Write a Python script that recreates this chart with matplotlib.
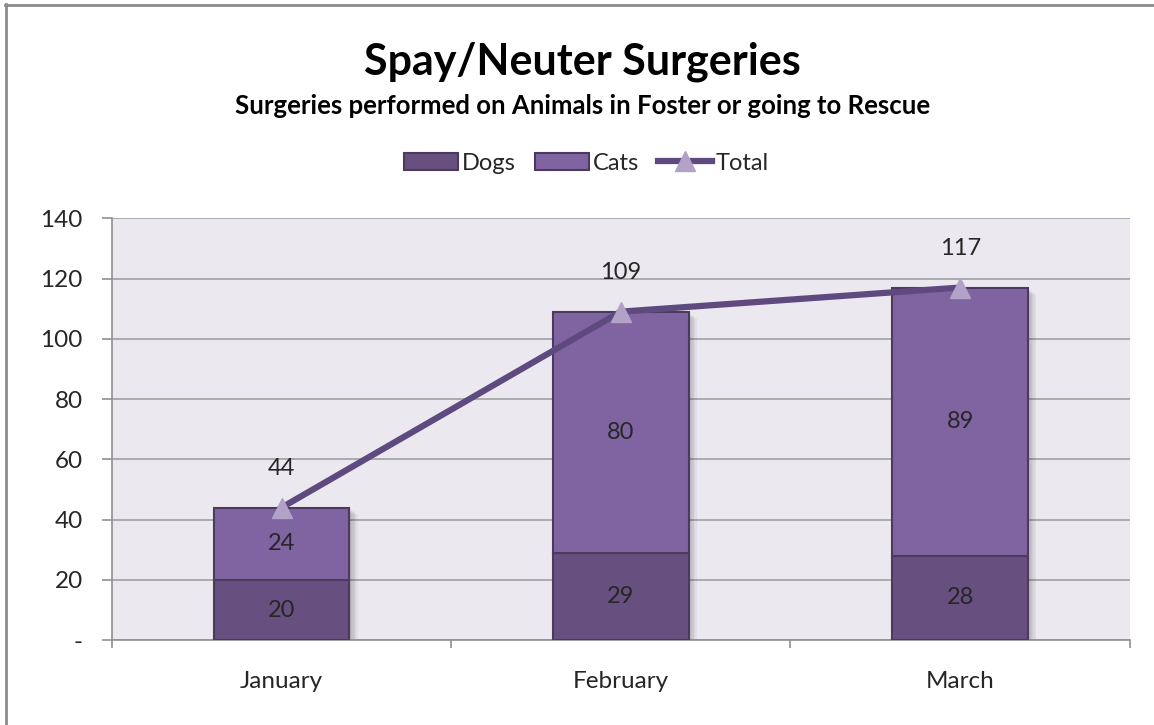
import numpy as np
import matplotlib.pyplot as plt
from matplotlib.patches import Rectangle

# data
months = ["January", "February", "March"]
dogs = [20, 29, 28]
cats = [24, 80, 89]
totals = [44, 109, 117]
yticks = [0, 20, 40, 60, 80, 100, 120, 140]
ytick_labels = ["-", "20", "40", "60", "80", "100", "120", "140"]

plt.rcParams["font.family"] = ["Lato", "DejaVu Sans"]

dog_color = "#67507f"
cat_color = "#8064a2"
edge_color = "#4a3a5e"
line_color = "#5f4a80"
marker_color = "#b3a2c7"
text_color = "#262626"

fig = plt.figure(figsize=(11.54, 7.25), dpi=100)
ax = fig.add_axes([0.097, 0.117, 0.882, 0.582])
ax.set_facecolor("#ebe9ef")

x = np.arange(len(months))
w = 0.4

# soft shadow to the right of the bars
for i in range(len(months)):
    for k in range(6):
        ax.add_patch(Rectangle((x[i] - w / 2 + 0.004 + k * 0.004, 0), w, totals[i] - 0.5 - k * 0.3,
                               facecolor="#000000", alpha=0.04, edgecolor="none", zorder=2))

b1 = ax.bar(x, dogs, w, color=dog_color, edgecolor=edge_color, linewidth=1.5, label="Dogs", zorder=3)
b2 = ax.bar(x, cats, w, bottom=dogs, color=cat_color, edgecolor=edge_color, linewidth=1.5, label="Cats", zorder=3)
ln, = ax.plot(x, totals, color=line_color, linewidth=4.5, marker="^", markersize=15,
              markerfacecolor=marker_color, markeredgecolor=marker_color, label="Total", zorder=4)

for i in range(len(months)):
    ax.text(x[i], dogs[i] / 2, str(dogs[i]), ha="center", va="center", fontsize=17, color=text_color, zorder=5)
    ax.text(x[i], dogs[i] + cats[i] / 2, str(cats[i]), ha="center", va="center", fontsize=17, color=text_color, zorder=5)
    ax.annotate(str(totals[i]), (x[i], totals[i]), xytext=(0, 28), textcoords="offset points",
                ha="center", va="center", fontsize=17, color=text_color, zorder=5)

ax.set_xlim(-0.5, 2.5)
ax.set_ylim(0, 140)
ax.set_yticks(yticks)
ax.set_yticklabels(ytick_labels)
ax.yaxis.grid(True, color="#a0a0a0", linewidth=1.2, zorder=1)
ax.set_axisbelow(True)

ax.set_xticks(x)
ax.set_xticklabels(months)
ax.set_xticks([-0.5, 0.5, 1.5, 2.5], minor=True)
ax.tick_params(axis="x", which="major", length=0, pad=22, labelsize=17.5, labelcolor=text_color)
ax.tick_params(axis="x", which="minor", length=6, color="#909090", width=1.2)
ax.tick_params(axis="y", length=7, color="#909090", width=1.2, pad=14, labelsize=17.5, labelcolor=text_color)

for side in ["top", "right"]:
    ax.spines[side].set_visible(False)
for side in ["left", "bottom"]:
    ax.spines[side].set_color("#909090")
    ax.spines[side].set_linewidth(1.2)

fig.text(0.505, 0.915, "Spay/Neuter Surgeries", ha="center", va="center",
         fontsize=31, fontweight="bold", color="#000000")
fig.text(0.505, 0.854, "Surgeries performed on Animals in Foster or going to Rescue", ha="center", va="center",
         fontsize=18.5, fontweight="bold", color="#000000")

leg = fig.legend([b1, b2, ln], ["Dogs", "Cats", "Total"], loc="center", bbox_to_anchor=(0.508, 0.775),
                 ncol=3, frameon=False, fontsize=17, handlelength=2.3, handletextpad=0.15, columnspacing=0.8)
for t in leg.get_texts():
    t.set_color(text_color)

# outer border (top and left visible)
fig.add_artist(plt.Line2D([0.004, 1.0], [0.993, 0.993], transform=fig.transFigure, color="#8c8c8c", linewidth=2))
fig.add_artist(plt.Line2D([0.005, 0.005], [0.0, 0.994], transform=fig.transFigure, color="#8c8c8c", linewidth=2))

fig.savefig("out.png", dpi=100)
